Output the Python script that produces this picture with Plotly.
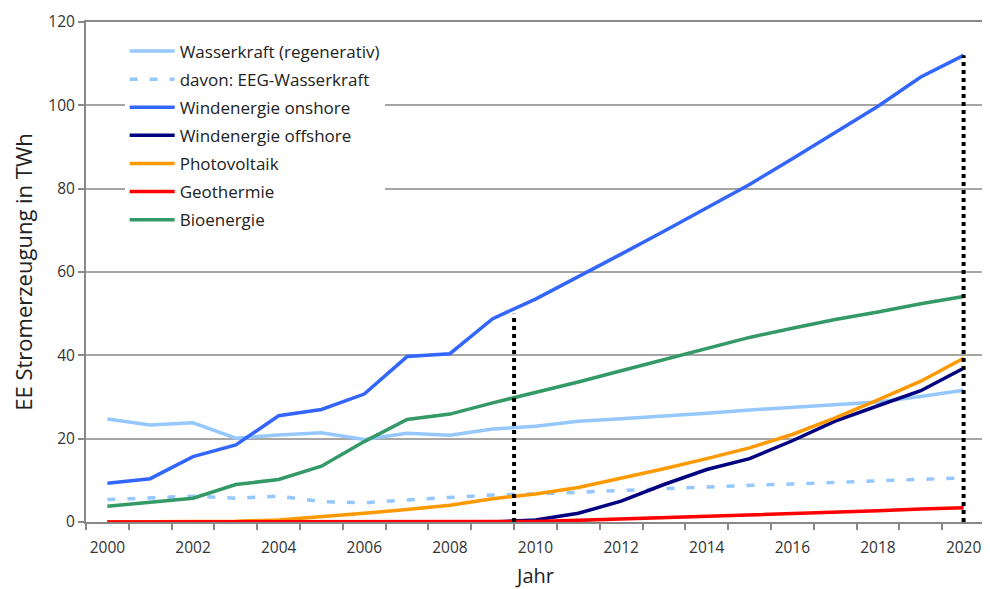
import plotly.graph_objects as go

years = list(range(2000, 2021))

wasserkraft = [24.7, 23.3, 23.8, 20.1, 20.9, 21.4, 19.8, 21.3, 20.8, 22.3, 23.0,
               24.2, 24.8, 25.4, 26.1, 26.9, 27.6, 28.1, 28.8, 30.1, 31.6]
eeg_wasserkraft = [5.4, 5.9, 6.2, 5.7, 6.2, 4.9, 4.6, 5.3, 5.9, 6.5, 6.7,
                   7.2, 7.6, 8.0, 8.4, 8.8, 9.2, 9.5, 9.9, 10.3, 10.6]
wind_onshore = [9.3, 10.4, 15.7, 18.5, 25.5, 27.0, 30.7, 39.7, 40.4, 48.8, 53.5,
                58.8, 64.3, 69.8, 75.3, 81.0, 87.2, 93.5, 99.8, 106.8, 112.0]
wind_offshore = [0, 0, 0, 0, 0, 0, 0, 0, 0, 0, 0.5,
                 2.1, 5.0, 9.0, 12.6, 15.2, 19.5, 24.2, 27.9, 31.5, 36.9]
photovoltaik = [0, 0, 0.1, 0.2, 0.5, 1.2, 2.1, 3.0, 4.0, 5.6, 6.7,
                8.3, 10.5, 12.8, 15.2, 17.8, 21.0, 25.0, 29.3, 33.8, 39.3]
geothermie = [0, 0, 0, 0, 0, 0, 0, 0, 0, 0, 0.1,
              0.4, 0.7, 1.0, 1.3, 1.7, 2.0, 2.4, 2.7, 3.1, 3.4]
bioenergie = [3.8, 4.7, 5.7, 9.0, 10.2, 13.4, 19.3, 24.6, 25.9, 28.6, 31.0,
              33.6, 36.3, 39.0, 41.8, 44.3, 46.5, 48.6, 50.4, 52.4, 54.1]

marker_years = [2009.5, 2020]
marker_tops = [50, 112]

tick_years = list(range(2000, 2021, 2))
tick_labels = [str(y) for y in tick_years]

series = [
    ("Wasserkraft (regenerativ)", wasserkraft, "#94c8ff", 3.5, "solid"),
    ("davon: EEG-Wasserkraft", eeg_wasserkraft, "#94c8ff", 3.5, "8px,12px"),
    ("Windenergie onshore", wind_onshore, "#3366ff", 3.5, "solid"),
    ("Windenergie offshore", wind_offshore, "#000080", 3.5, "solid"),
    ("Photovoltaik", photovoltaik, "#ff9900", 3.5, "solid"),
    ("Geothermie", geothermie, "#ff0000", 3.5, "solid"),
    ("Bioenergie", bioenergie, "#339966", 3.5, "solid"),
]

fig = go.Figure()
for i, (name, vals, color, width, dash) in enumerate(series):
    fig.add_trace(go.Scatter(
        x=years, y=vals, mode="lines", name=name,
        line=dict(color=color, width=width, dash=dash),
        legendgroup=f"g{i}",
    ))

for xv, top in zip(marker_years, marker_tops):
    fig.add_trace(go.Scatter(
        x=[xv, xv], y=[0, top], mode="lines", showlegend=False,
        line=dict(color="black", width=4, dash="dot"),
    ))

font = "Open Sans, Noto Sans, sans-serif"
fig.update_layout(
    width=982, height=581,
    margin=dict(l=78, r=5, t=14, b=67),
    paper_bgcolor="white", plot_bgcolor="white",
    font=dict(family=font, size=15, color="#333333"),
    showlegend=True,
    legend=dict(
        x=0.043, y=0.977, xanchor="left", yanchor="top",
        bgcolor="white", borderwidth=0,
        font=dict(size=17, color="#222222"),
        traceorder="grouped", tracegroupgap=3,
        itemwidth=45,
    ),
)
fig.update_xaxes(
    range=[1999.5, 2020.5], automargin=False,
    tickmode="array", tickvals=tick_years, ticktext=tick_labels,
    ticks="", showgrid=False, ticklabelstandoff=10,
    minor=dict(tick0=1999.5, dtick=1, ticks="outside", ticklen=6,
               tickcolor="#888888", tickwidth=1.5, showgrid=False),
    showline=True, linecolor="#888888", linewidth=2, mirror=True,
    title=dict(text="Jahr", font=dict(size=20, color="#222222"), standoff=16),
    tickfont=dict(size=15.5, color="#333333"),
    zeroline=False,
)
fig.update_yaxes(
    range=[0, 120], dtick=20, tick0=0, automargin=False,
    ticks="outside", ticklen=6, tickcolor="#888888", tickwidth=1.5,
    showgrid=True, gridcolor="#a6a6a6", gridwidth=1.5,
    showline=True, linecolor="#888888", linewidth=2, mirror=True,
    title=dict(text="EE Stromerzeugung in TWh", font=dict(size=22, color="#222222"), standoff=14),
    tickfont=dict(size=15.5, color="#333333"),
    zeroline=False,
)

fig.write_html("out.html")
